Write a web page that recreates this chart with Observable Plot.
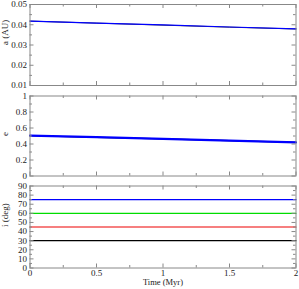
<!DOCTYPE html>
<html><head><meta charset="utf-8">
<script src="https://cdn.jsdelivr.net/npm/d3@7"></script>
<script src="https://cdn.jsdelivr.net/npm/@observablehq/plot@0.6"></script>
<style>body{margin:0;background:#fff} svg{display:block}</style>
</head><body><div id="c"></div>
<script>
// ---- data ----
const time = [0, 0.5, 1, 1.5, 2];
const aBlack = [0.0418, 0.0408, 0.0398, 0.0388, 0.0379];
const aBlue  = [0.0418, 0.0408, 0.0399, 0.0389, 0.0380];
const eBlack = [0.503, 0.484, 0.464, 0.441, 0.420];
const eBlue  = [0.505, 0.485, 0.465, 0.442, 0.420];
const iTime = [0, 2];
const iBlack = [30, 30];
const iRed   = [45, 45];
const iGreen = [60, 60];
const iBlue  = [75, 75];
const xMajor = [0, 0.5, 1, 1.5, 2];
const xMinor = [0.25, 0.75, 1.25, 1.75];
const aMajor = [0.01, 0.02, 0.03, 0.04, 0.05];
const aMinor = [0.015, 0.025, 0.035, 0.045];
const eMajor = [0, 0.2, 0.4, 0.6, 0.8, 1];
const eMinor = [0.1, 0.3, 0.5, 0.7, 0.9];
const iMajor = [0, 10, 20, 30, 40, 50, 60, 70, 80, 90];
const iMinor = [5, 15, 25, 35, 45, 55, 65, 75, 85];

const W = 299, ML = 29.5, MR = 3.5, FRAME = "#888", TXT = "#222";
const MAJ = 4, MIN = 2.5;

function series(t, v, color, w) {
  return Plot.line(t.map((x, k) => ({t: x, v: v[k]})), {x: "t", y: "v", stroke: color, strokeWidth: w});
}

function panel({height, mt, mb, yDomain, yMajor, yMinor, label, lines, bottomAxis}) {
  const ph = height - mt - mb, pw = W - ML - MR;
  const marks = [
    ...lines,
    Plot.tickY(yMajor, {y: d => d, insetRight: pw - MAJ, stroke: FRAME}),
    Plot.tickY(yMajor, {y: d => d, insetLeft: pw - MAJ, stroke: FRAME}),
    Plot.tickY(yMinor, {y: d => d, insetRight: pw - MIN, stroke: FRAME}),
    Plot.tickY(yMinor, {y: d => d, insetLeft: pw - MIN, stroke: FRAME}),
    Plot.tickX(xMajor, {x: d => d, insetTop: ph - MAJ, stroke: FRAME}),
    Plot.tickX(xMajor, {x: d => d, insetBottom: ph - MAJ, stroke: FRAME}),
    Plot.tickX(xMinor, {x: d => d, insetTop: ph - MIN, stroke: FRAME}),
    Plot.tickX(xMinor, {x: d => d, insetBottom: ph - MIN, stroke: FRAME}),
    Plot.frame({stroke: FRAME}),
    Plot.axisY(yMajor, {tickSize: 0, tickPadding: 3, tickFormat: d => String(d), label: null, fill: TXT}),
    Plot.text([label], {text: d => d, frameAnchor: "left", dx: -24.5, rotate: -90, fontSize: 9, fill: TXT})
  ];
  if (bottomAxis) {
    marks.push(Plot.axisX(xMajor, {tickSize: 0, tickPadding: 1.5, tickFormat: d => String(d), label: null, fill: TXT}));
    marks.push(Plot.text(["Time (Myr)"], {text: d => d, frameAnchor: "bottom", dy: 14.5, lineAnchor: "middle", fontSize: 8.5, fill: TXT}));
  }
  return Plot.plot({
    width: W, height,
    marginLeft: ML, marginRight: MR, marginTop: mt, marginBottom: mb,
    style: {fontFamily: "'Liberation Serif', serif", fontSize: "9px", color: "black", background: "white"},
    x: {domain: [0, 2], axis: bottomAxis ? undefined : null},
    y: {domain: yDomain},
    marks
  });
}

const c = document.getElementById("c");
c.append(panel({
  height: 90, mt: 4, mb: 5, yDomain: [0.01, 0.05], yMajor: aMajor, yMinor: aMinor, label: "a (AU)",
  lines: [series(time, aBlack, "black", 0.8), series(time, aBlue, "#0000ff", 1.2)]
}));
c.append(panel({
  height: 90, mt: 5.5, mb: 4.5, yDomain: [0, 1], yMajor: eMajor, yMinor: eMinor, label: "e",
  lines: [series(time, eBlack, "black", 1.2), series(time, eBlue, "#0000ff", 2.2)]
}));
c.append(panel({
  height: 109, mt: 5.5, mb: 21.5, yDomain: [0, 90], yMajor: iMajor, yMinor: iMinor, label: "i (deg)",
  lines: [series(iTime, iBlack, "black", 1.2), series(iTime, iRed, "#ee0000", 1.2),
          series(iTime, iGreen, "#00dd00", 1.2), series(iTime, iBlue, "#0000ff", 1.2)],
  bottomAxis: true
}));
</script>
</body></html>
